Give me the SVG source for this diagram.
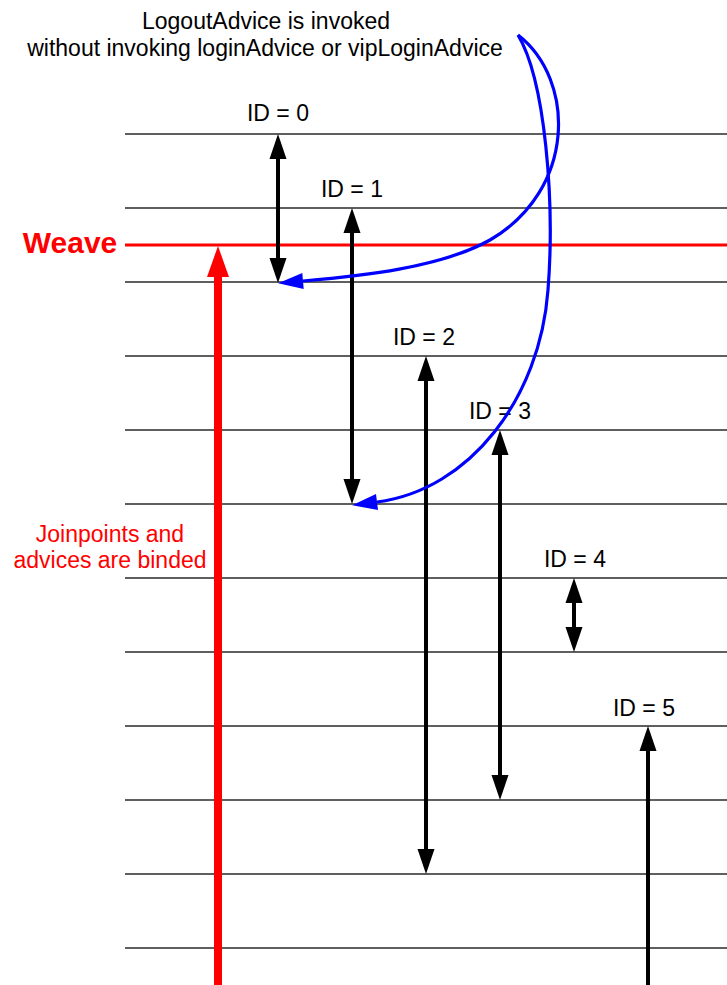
<svg xmlns="http://www.w3.org/2000/svg" width="727" height="985" viewBox="0 0 727 985">
<style>
text{font-family:"Liberation Sans",Arial,sans-serif;font-size:23px;fill:#000;text-anchor:middle}
.red{fill:#ff0000}
.grid{stroke:#2a2a2a;stroke-width:1.4}
.life{stroke:#000;stroke-width:4;fill:none}
.blue{stroke:#0000ff;stroke-width:3.2;fill:none}
</style>
<defs>
<marker id="ah" markerUnits="userSpaceOnUse" markerWidth="25" markerHeight="17" refX="0" refY="8.5" orient="auto-start-reverse" overflow="visible"><path d="M0,0 L25,8.5 L0,17 z" fill="#000"/></marker>
<marker id="ahr" markerUnits="userSpaceOnUse" markerWidth="31" markerHeight="22" refX="0" refY="11" orient="auto" overflow="visible"><path d="M0,0 L31,11 L0,22 z" fill="#ff0000"/></marker>
<marker id="ahb" markerUnits="userSpaceOnUse" markerWidth="25" markerHeight="16" refX="0" refY="8" orient="auto" overflow="visible"><path d="M0,0 L25,8 L0,16 z" fill="#0000ff"/></marker>
</defs>
<rect width="727" height="985" fill="#fff"/>
<g id="grid">
<line class="grid" x1="125" y1="134" x2="727" y2="134"/>
<line class="grid" x1="125" y1="208" x2="727" y2="208"/>
<line class="grid" x1="125" y1="282" x2="727" y2="282"/>
<line class="grid" x1="125" y1="356" x2="727" y2="356"/>
<line class="grid" x1="125" y1="430" x2="727" y2="430"/>
<line class="grid" x1="125" y1="504" x2="727" y2="504"/>
<line class="grid" x1="125" y1="578" x2="727" y2="578"/>
<line class="grid" x1="125" y1="652" x2="727" y2="652"/>
<line class="grid" x1="125" y1="726" x2="727" y2="726"/>
<line class="grid" x1="125" y1="800" x2="727" y2="800"/>
<line class="grid" x1="125" y1="874" x2="727" y2="874"/>
<line class="grid" x1="125" y1="948" x2="727" y2="948"/>
</g>
<g id="weave">
<line x1="125" y1="245" x2="727" y2="245" stroke="#ff0000" stroke-width="3"/>
<text x="70" y="253" class="red" style="font-weight:bold;font-size:30px">Weave</text>
</g>
<g id="bind">
<line x1="218" y1="985" x2="218" y2="277" stroke="#ff0000" stroke-width="8" marker-end="url(#ahr)"/>
<text class="red" x="110" y="542">Joinpoints and</text>
<text class="red" x="110" y="568">advices are binded</text>
</g>
<g id="note">
<text x="266" y="29">LogoutAdvice is invoked</text>
<text x="265" y="56">without invoking loginAdvice or vipLoginAdvice</text>
</g>
<g id="id0"><text x="278" y="121">ID = 0</text></g>
<g id="id1"><text x="352" y="197">ID = 1</text></g>
<g id="id2"><text x="424" y="345">ID = 2</text></g>
<g id="id3"><text x="500" y="419">ID = 3</text></g>
<g id="id4"><text x="575" y="567">ID = 4</text></g>
<g id="id5"><text x="644" y="716">ID = 5</text></g>
<g id="connectors">
<line class="life" x1="278" y1="159" x2="278" y2="258" marker-start="url(#ah)" marker-end="url(#ah)"/>
<line class="life" x1="352" y1="233" x2="352" y2="479" marker-start="url(#ah)" marker-end="url(#ah)"/>
<line class="life" x1="426" y1="381" x2="426" y2="849" marker-start="url(#ah)" marker-end="url(#ah)"/>
<line class="life" x1="500" y1="455" x2="500" y2="775" marker-start="url(#ah)" marker-end="url(#ah)"/>
<line class="life" x1="574" y1="603" x2="574" y2="627" marker-start="url(#ah)" marker-end="url(#ah)"/>
<line class="life" x1="648" y1="985" x2="648" y2="751" marker-end="url(#ah)"/>
<path class="blue" d="M518,35 C576,80 576,190 490,240 C440,268 360,276 303,281" marker-end="url(#ahb)"/>
<path class="blue" d="M518,35 C545,80 555,200 548,290 C540,398 470,490 377,502" marker-end="url(#ahb)"/>
</g>
</svg>
